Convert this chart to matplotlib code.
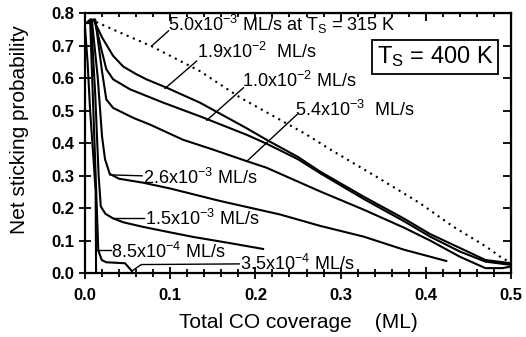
import matplotlib
matplotlib.use("Agg")
import matplotlib.pyplot as plt
from matplotlib.ticker import MultipleLocator, FormatStrFormatter

plt.rcParams['font.family'] = ['Liberation Sans', 'DejaVu Sans']
plt.rcParams['mathtext.fontset'] = 'custom'
plt.rcParams['mathtext.rm'] = 'Liberation Sans'
plt.rcParams['mathtext.it'] = 'Liberation Sans'

# dotted curve: 5.0e-3 ML/s at Ts = 315 K
cov_315 = [0.006, 0.01, 0.041, 0.078, 0.135, 0.182, 0.26, 0.288, 0.346, 0.393, 0.432, 0.471, 0.49, 0.5]
s_315 = [0.781, 0.776, 0.74, 0.698, 0.621, 0.54, 0.426, 0.38, 0.29, 0.215, 0.143, 0.081, 0.045, 0.033]

# solid curves, Ts = 400 K
cov_19e2 = [0.003, 0.01, 0.02, 0.033, 0.045, 0.06, 0.072, 0.096, 0.135, 0.19, 0.213, 0.25, 0.276,
            0.327, 0.374, 0.405, 0.44, 0.47, 0.5]
s_19e2 = [0.77, 0.78, 0.725, 0.668, 0.635, 0.612, 0.596, 0.57, 0.524, 0.445, 0.41, 0.357, 0.312,
          0.235, 0.168, 0.12, 0.077, 0.04, 0.03]

cov_10e2 = [0.004, 0.011, 0.02, 0.025, 0.033, 0.053, 0.092, 0.135, 0.19, 0.213, 0.25, 0.276,
            0.327, 0.374, 0.405, 0.44, 0.47, 0.5]
s_10e2 = [0.77, 0.78, 0.68, 0.627, 0.596, 0.565, 0.524, 0.482, 0.425, 0.398, 0.35, 0.307,
          0.228, 0.16, 0.112, 0.066, 0.035, 0.025]

cov_54e3 = [0.004, 0.012, 0.02, 0.025, 0.033, 0.057, 0.076, 0.115, 0.15, 0.19, 0.213, 0.276,
            0.327, 0.374, 0.405, 0.44, 0.47, 0.49, 0.5]
s_54e3 = [0.77, 0.78, 0.62, 0.534, 0.508, 0.477, 0.457, 0.41, 0.38, 0.344, 0.324, 0.251,
          0.195, 0.14, 0.10, 0.05, 0.015, 0.015, 0.02]

cov_26e3 = [0.004, 0.008, 0.015, 0.02, 0.0235, 0.029, 0.04, 0.068, 0.1, 0.158, 0.229, 0.276,
            0.327, 0.374, 0.424]
s_26e3 = [0.77, 0.78, 0.60, 0.42, 0.35, 0.305, 0.29, 0.278, 0.26, 0.222, 0.18, 0.145,
          0.112, 0.072, 0.037]

cov_15e3 = [0.003, 0.007, 0.012, 0.016, 0.0185, 0.024, 0.033, 0.045, 0.068, 0.1, 0.127, 0.17, 0.209]
s_15e3 = [0.77, 0.78, 0.55, 0.30, 0.205, 0.182, 0.168, 0.156, 0.142, 0.125, 0.111, 0.092, 0.074]

cov_85e4 = [0.002, 0.006, 0.0156, 0.0196, 0.025, 0.047, 0.055]
s_85e4 = [0.77, 0.78, 0.07, 0.04, 0.033, 0.03, 0.006]

cov_35e4 = [0.0, 0.003, 0.006, 0.01, 0.0125, 0.013]
s_35e4 = [0.755, 0.65, 0.5, 0.35, 0.25, 0.0]

fig = plt.figure(figsize=(5.26, 3.37), dpi=100)
ax = fig.add_axes([0.1616, 0.1899, 0.8099, 0.7715])

ax.plot(cov_315, s_315, color='black', linestyle=(0, (1, 2.2)), linewidth=1.5)
for xs, ys in [(cov_19e2, s_19e2), (cov_10e2, s_10e2), (cov_54e3, s_54e3),
               (cov_26e3, s_26e3), (cov_15e3, s_15e3), (cov_85e4, s_85e4),
               (cov_35e4, s_35e4)]:
    ax.plot(xs, ys, color='black', linewidth=1.5, solid_joinstyle='round')

# labels with leader lines
fs = 13
ax.text(0.097, 0.765, r"5.0x10$^{-3}$ ML/s at T$_S$ = 315 K", fontsize=fs, va='center')
ax.plot([0.098, 0.078], [0.745, 0.698], color='black', lw=1)

ax.text(0.131, 0.679, r"1.9x10$^{-2}$  ML/s", fontsize=fs, va='center')
ax.plot([0.131, 0.094], [0.652, 0.568], color='black', lw=1)

ax.text(0.184, 0.590, r"1.0x10$^{-2}$ ML/s", fontsize=fs, va='center')
ax.plot([0.186, 0.143], [0.570, 0.470], color='black', lw=1)

ax.text(0.247, 0.503, r"5.4x10$^{-3}$  ML/s", fontsize=fs, va='center')
ax.plot([0.249, 0.19], [0.488, 0.344], color='black', lw=1)

ax.text(0.068, 0.293, r"2.6x10$^{-3}$ ML/s", fontsize=fs, va='center')
ax.plot([0.029, 0.067], [0.302, 0.299], color='black', lw=1)

ax.text(0.070, 0.167, r"1.5x10$^{-3}$ ML/s", fontsize=fs, va='center')
ax.plot([0.033, 0.069], [0.169, 0.169], color='black', lw=1)

ax.text(0.031, 0.066, r"8.5x10$^{-4}$ ML/s", fontsize=fs, va='center')
ax.plot([0.0137, 0.030], [0.071, 0.071], color='black', lw=1)

ax.text(0.182, 0.028, r"3.5x10$^{-4}$ ML/s", fontsize=fs, va='center')
ax.plot([0.055, 0.066, 0.181], [0.006, 0.026, 0.028], color='black', lw=1)

ax.text(0.411, 0.665, r"T$_S$ = 400 K", fontsize=17, va='center', ha='center',
        bbox=dict(boxstyle='square,pad=0.2', facecolor='white', edgecolor='black', linewidth=1.3))

ax.set_xlim(0, 0.5)
ax.set_ylim(0, 0.8)
ax.xaxis.set_major_locator(MultipleLocator(0.1))
ax.xaxis.set_minor_locator(MultipleLocator(0.02))
ax.yaxis.set_major_locator(MultipleLocator(0.1))
ax.xaxis.set_major_formatter(FormatStrFormatter('%.1f'))
ax.yaxis.set_major_formatter(FormatStrFormatter('%.1f'))
ax.tick_params(which='both', direction='inout', width=1.3)
ax.tick_params(which='major', length=9, labelsize=12)
ax.tick_params(axis='x', which='major', pad=6)
ax.tick_params(axis='y', which='major', pad=3)
ax.tick_params(which='minor', length=6)
for lbl in ax.get_xticklabels() + ax.get_yticklabels():
    lbl.set_fontweight('bold')
for sp in ax.spines.values():
    sp.set_linewidth(1.6)

# top and right ticks point inward only
top = ax.secondary_xaxis('top')
top.xaxis.set_major_locator(MultipleLocator(0.1))
top.xaxis.set_minor_locator(MultipleLocator(0.02))
top.tick_params(which='both', direction='in', labeltop=False, width=1.3)
top.tick_params(which='major', length=6)
top.tick_params(which='minor', length=3)
right = ax.secondary_yaxis('right')
right.yaxis.set_major_locator(MultipleLocator(0.1))
right.tick_params(which='both', direction='in', labelright=False, width=1.3, length=6)

ax.set_xlabel("Total CO coverage    (ML)", fontsize=15)
ax.xaxis.set_label_coords(0.502, -0.155)
ax.set_ylabel("Net sticking probability", fontsize=15)
ax.yaxis.set_label_coords(-0.132, 0.55)

fig.savefig("out.png", dpi=100)
